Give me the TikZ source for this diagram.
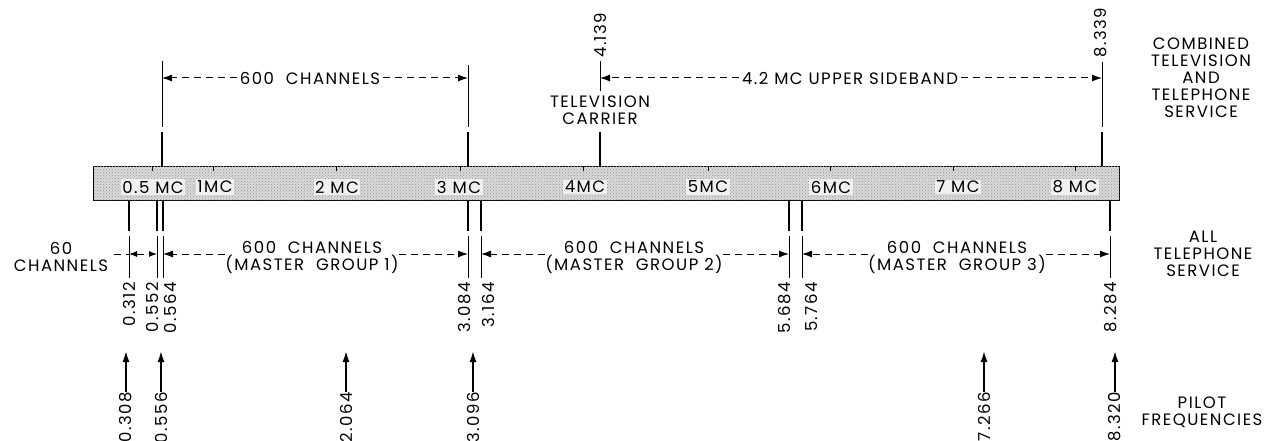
\documentclass[tikz,border=0pt]{standalone}
\usepackage{fontspec}
\setmainfont{Poppins}[LetterSpace=9]
\usetikzlibrary{arrows.meta,positioning,patterns}
\tikzset{
  lbl/.style={inner sep=0pt, align=center, font=\fontsize{16.5}{17}\selectfont},
  numlbl/.style={lbl, rotate=90},
  band/.style={draw=black, line width=1pt, fill=gray!30, inner sep=0pt,
    minimum width=1026pt, minimum height=34pt,
    postaction={pattern=crosshatch dots, pattern color=gray!80}},
  mclbl/.style={lbl, fill=gray!12, inner sep=1.5pt},
  mctick/.style={line width=1pt},
  thinline/.style={line width=0.9pt},
  medline/.style={line width=1.3pt},
  thickline/.style={line width=1.8pt},
  dlead/.style={line width=1pt, dash pattern=on 7pt off 5pt},
  darr/.style={dlead, -{Latex[length=10pt,width=7pt]}},
  pilot/.style={line width=1.7pt, -{Latex[length=11pt,width=7pt]}}
}
\begin{document}
\begin{tikzpicture}[x=1pt, y=-1pt]
  \useasboundingbox (0,0) rectangle (1265,441);

  % frequency band
  \node[band, anchor=north west] (bar) at (93,166) {};
  \foreach \x/\t in {153/0.5 MC, 215/1MC, 337/2 MC, 459/3 MC, 585/4MC, 708/5MC, 831/6MC, 958/7 MC, 1075/8 MC}
    \node[mclbl] (mc\x) at (\x,187) {\t};
  \foreach \x in {152,213,336,460,583,708,830,953,1075}
    \draw[mctick] (\x,166) -- (\x,171);

  % combined television and telephone service
  \foreach \n/\x/\y in {t564/162/61, t3084/468/65, t8339/1102/62} {
    \coordinate (\n) at (\x,\y);
    \draw[thinline] (\n) -- (\x,127);
    \draw[thickline] (\x,132) -- (\n |- bar.north);
  }
  \node[numlbl, anchor=west] (f4139) at (600,58) {4.139};
  \node[numlbl, anchor=west] (f8339) at (1101,58) {8.339};
  \draw[thinline] ([yshift=-3pt]f4139.west) -- (600,91);
  \draw[thickline] (600,132) -- (f4139 |- bar.north);
  \node[lbl] (tvc) at (600,110) {TELEVISION\\CARRIER};

  \node[lbl] (ch600) at (310,78) {600\ \ CHANNELS};
  \draw[darr] ([xshift=-3pt]ch600.west) -- (t564 |- ch600);
  \draw[darr] ([xshift=3pt]ch600.east) -- (t3084 |- ch600);
  \node[lbl] (usb) at (850,78) {4.2 MC UPPER SIDEBAND};
  \draw[darr] ([xshift=-3pt]usb.west) -- (f4139 |- usb);
  \draw[darr] ([xshift=3pt]usb.east) -- (t8339 |- usb);

  \node[lbl] (combined) at (1201,78) {COMBINED\\TELEVISION\\AND\\TELEPHONE\\SERVICE};

  % all telephone service
  \coordinate (dimy) at (0,254);
  \foreach \n/\x in {b312/129, b552/157, b564/163, b3084/468, b3164/481, b5684/789, b5764/802, b8284/1110} {
    \coordinate (\n) at (\x,278);
    \draw[medline] (\n |- bar.south) -- (\x,231);
    \draw[thinline] (\x,236) -- (\n);
  }
  \foreach \n/\x/\t in {b312/129/0.312, b552/152/0.552, b564/170/0.564, b3084/465/3.084, b3164/488/3.164, b5684/785/5.684, b5764/811/5.764, b8284/1111/8.284}
    \node[numlbl, anchor=east] (l\n) at (\x,282) {\t};

  \node[lbl] (ch60) at (61,257) {60\\CHANNELS};
  \draw[dlead] ([xshift=6pt]ch60.east |- dimy) -- (b312 |- dimy);
  \draw[dlead, {Latex[length=8pt,width=6pt]}-{Latex[length=8pt,width=6pt]}] (b312 |- dimy) -- (b552 |- dimy);

  \node[lbl] (mg1) at (312,257) {600\ \ CHANNELS\\(MASTER\ \ GROUP 1)};
  \draw[darr] (mg1.west |- dimy) -- (b564 |- dimy);
  \draw[darr] (mg1.east |- dimy) -- (b3084 |- dimy);
  \node[lbl] (mg2) at (634,257) {600\ \ CHANNELS\\(MASTER\ \ GROUP 2)};
  \draw[darr] (mg2.west |- dimy) -- (b3164 |- dimy);
  \draw[darr] (mg2.east |- dimy) -- (b5684 |- dimy);
  \node[lbl] (mg3) at (957,257) {600\ \ CHANNELS\\(MASTER\ \ GROUP 3)};
  \draw[darr] (mg3.west |- dimy) -- (b5764 |- dimy);
  \draw[darr] (mg3.east |- dimy) -- (b8284 |- dimy);

  \node[lbl] (alltel) at (1203,254) {ALL\\TELEPHONE\\SERVICE};

  % pilot frequencies
  \foreach \n/\x/\t in {p308/126/0.308, p556/161/0.556, p2064/346/2.064, p3096/473/3.096, p7266/984/7.266, p8320/1115/8.320} {
    \node[numlbl, anchor=east] (\n) at (\x,392) {\t};
    \draw[pilot] (\n.east) -- ++(0,-41);
  }
  \node[lbl] (pilots) at (1202,412) {PILOT\\FREQUENCIES};
\end{tikzpicture}
\end{document}
